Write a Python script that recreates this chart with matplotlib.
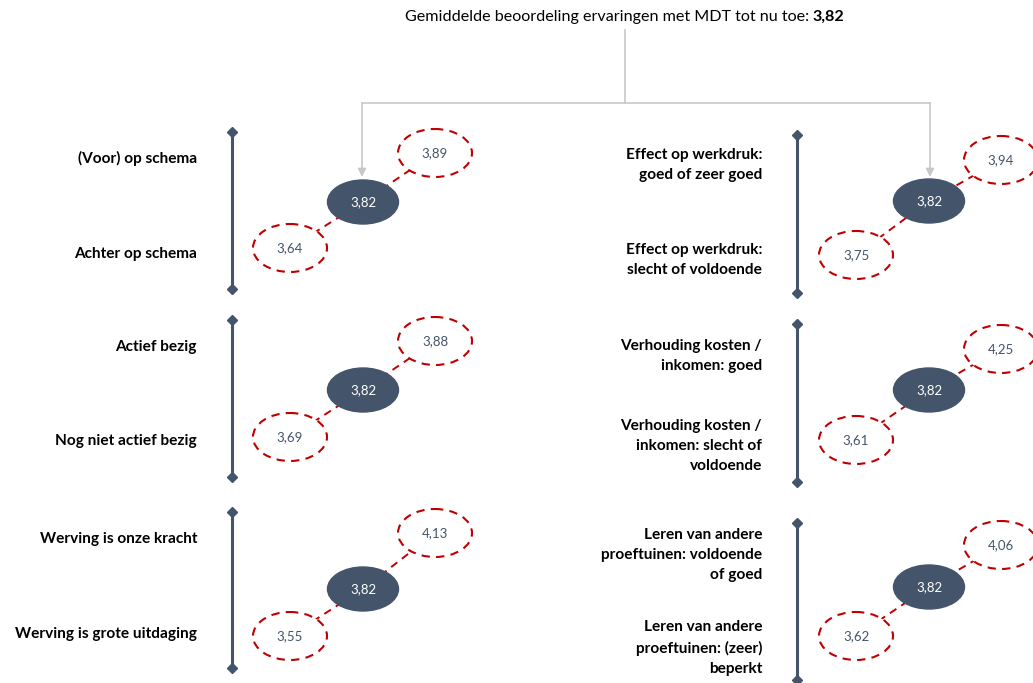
import matplotlib.pyplot as plt
from matplotlib.patches import Ellipse

plt.rcParams['font.family'] = ['Lato', 'DejaVu Sans']

# gemiddelde score en score per groep (boven = positief, onder = negatief)
gemiddelde = 3.82
score_boven = [3.89, 3.88, 4.13, 3.94, 4.25, 4.06]
score_onder = [3.64, 3.69, 3.55, 3.75, 3.61, 3.62]
label_boven = ['(Voor) op schema', 'Actief bezig', 'Werving is onze kracht',
               'Effect op werkdruk:\ngoed of zeer goed',
               'Verhouding kosten /\ninkomen: goed',
               'Leren van andere\nproeftuinen: voldoende\nof goed']
label_onder = ['Achter op schema', 'Nog niet actief bezig', 'Werving is grote uitdaging',
               'Effect op werkdruk:\nslecht of voldoende',
               'Verhouding kosten /\ninkomen: slecht of\nvoldoende',
               'Leren van andere\nproeftuinen: (zeer)\nbeperkt']

DONKER = '#44546A'
ROOD = '#C00000'
GRIJS = '#C8C8C8'


def fmt(v):
    return f'{v:.2f}'.replace('.', ',')


fig = plt.figure(figsize=(10.33, 6.83), dpi=100)
ax = fig.add_axes([0, 0, 1, 1])
ax.set_xlim(0, 1033)
ax.set_ylim(683, 0)
ax.axis('off')

# titel met vetgedrukt gemiddelde
ax.text(813, 17, 'Gemiddelde beoordeling ervaringen met MDT tot nu toe: ',
        ha='right', va='center', fontsize=11.6, color='black')
ax.text(813, 17, fmt(gemiddelde), ha='left', va='center', fontsize=11.6,
        fontweight='bold', color='black')

# grijze verbindingslijnen naar de twee kolommen
ax.plot([625, 625], [30, 103], color=GRIJS, lw=1.2)
ax.plot([362, 930], [103, 103], color=GRIJS, lw=1.2)
for x in (362, 930):
    ax.annotate('', xy=(x, 177), xytext=(x, 103),
                arrowprops=dict(arrowstyle='-|>', color=GRIJS, lw=1.2,
                                mutation_scale=12, shrinkA=0, shrinkB=0))

# layout per blok: (x as-lijn, y begin, y eind, x label, x midden, y midden,
#                   dy boven, dy onder, y label boven, y label onder)
blokken = [
    (232, 132, 289, 197, 363, 202, -49, 46, 158, 254),
    (232, 320, 477, 197, 363, 390, -49, 47, 347, 441),
    (232, 512, 668, 197, 363, 589, -56, 47, 539, 634),
    (797, 135, 293, 762, 929, 201, -41, 54, 165, 260),
    (797, 324, 482, 762, 929, 390, -41, 50, 356, 446),
    (797, 523, 680, 762, 929, 587, -42, 49, 555, 648),
]

for i, (xa, y0, y1, xl, xm, ym, dyb, dyo, ylb, ylo) in enumerate(blokken):
    # verticale as met ruitjes
    ax.plot([xa, xa], [y0, y1], color=DONKER, lw=2.2, solid_capstyle='butt')
    ax.plot([xa, xa], [y0, y1], ls='none', marker='D', ms=5, color=DONKER)

    ax.text(xl, ylb, label_boven[i], ha='right', va='center', fontsize=11.1,
            fontweight='bold', color='black', linespacing=1.55)
    ax.text(xl, ylo, label_onder[i], ha='right', va='center', fontsize=11.1,
            fontweight='bold', color='black', linespacing=1.55)

    xb, yb = xm + 72, ym + dyb
    xo, yo = xm - 73, ym + dyo
    ax.plot([xo, xm, xb], [yo, ym, yb], color=ROOD, lw=1.4, ls=(0, (4, 3)), zorder=1)

    ax.add_patch(Ellipse((xm, ym), 71, 44, facecolor=DONKER, edgecolor=DONKER, zorder=3))
    ax.text(xm, ym, fmt(gemiddelde), ha='center', va='center', fontsize=9.5,
            color='white', zorder=4)

    for (xe, ye, v) in ((xb, yb, score_boven[i]), (xo, yo, score_onder[i])):
        ax.add_patch(Ellipse((xe, ye), 74, 48, facecolor='white', edgecolor=ROOD,
                             lw=1.5, ls=(0, (4, 3)), zorder=2))
        ax.text(xe, ye, fmt(v), ha='center', va='center', fontsize=9.5,
                color=DONKER, zorder=4)

fig.savefig('out.png', dpi=100)
